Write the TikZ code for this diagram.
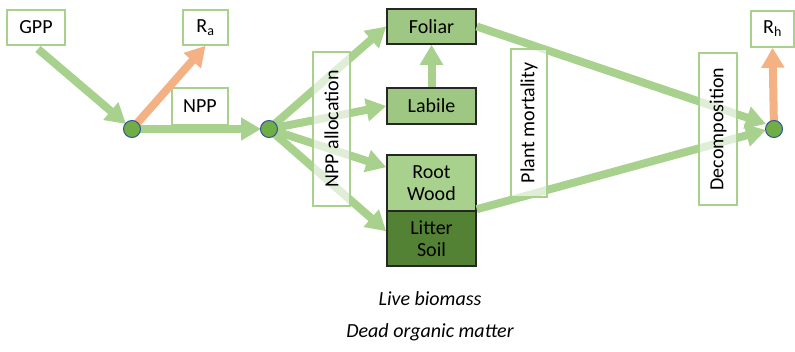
\documentclass[tikz,border=0pt]{standalone}
\usepackage{fontspec}
\setmainfont{Carlito}
\usetikzlibrary{arrows.meta}
\definecolor{arrgreen}{HTML}{A9D18E}
\definecolor{arrorange}{HTML}{F4B183}
\definecolor{livegreen}{HTML}{9DC782}
\definecolor{rootgreen}{HTML}{A9D18E}
\definecolor{deadgreen}{HTML}{548235}
\definecolor{dotgreen}{HTML}{70AD47}
\definecolor{dotblue}{HTML}{2F5597}
\begin{document}
\begin{tikzpicture}[x=1bp,y=-1bp,
  every node/.style={font=\fontsize{20bp}{24bp}\selectfont, inner sep=0pt},
  lbox/.style={draw=arrgreen, line width=1.5bp, fill=white, fill opacity=0.65, text opacity=1},
  pool/.style={draw=black!85, line width=1.5bp, minimum width=89bp},
  dot/.style={circle, draw=dotblue, line width=1bp, fill=dotgreen, minimum size=17bp},
  flow/.style={draw=arrgreen, line width=8bp, -{Triangle[length=20bp,width=22bp]}},
  resp/.style={draw=arrorange, line width=8bp, -{Triangle[length=20bp,width=22bp]}}
]
\useasboundingbox (0,0) rectangle (795,351);

% nodes (boxes without overlap first)
\node[lbox, minimum width=58bp, minimum height=35bp] (gpp) at (36,27.5) {GPP};
\node[lbox, minimum width=45bp, minimum height=35bp] (ra) at (205.5,27.5) {R\textsubscript{a}};
\node[lbox, minimum width=56bp, minimum height=37bp] (npp) at (200,106.5) {NPP};
\node[lbox, minimum width=43bp, minimum height=36bp] (rh) at (772.5,29) {R\textsubscript{h}};

\node[pool, fill=livegreen, minimum height=35bp] (foliar) at (431.5,26.5) {Foliar};
\node[pool, fill=livegreen, minimum height=36bp] (labile) at (431.5,106) {Labile};
\node[pool, fill=rootgreen, minimum height=56bp, align=center] (rootwood) at (431.5,183) {Root\\[-2bp]Wood};
\node[pool, fill=deadgreen, minimum height=55bp, align=center] (littersoil) at (431.5,238.5) {Litter\\[-2bp]Soil};

\coordinate (n1) at (132,129);
\coordinate (n2) at (269,129);
\coordinate (n3) at (774,129);
\coordinate (gppout) at (38,49);

% arrows
\draw[flow] (gppout) -- ([shift={(-6bp,5bp)}]n1);
\draw[resp] (n1) -- (ra.south);
\draw[flow] (n1) -- ([xshift=-8bp]n2);
\draw[flow] (n2) -- (foliar.west);
\draw[flow] (n2) -- (labile.west);
\draw[flow] (n2) -- ([yshift=-13bp]rootwood.north west);
\draw[flow] (n2) -- ([yshift=-21bp]littersoil.north west);
\draw[flow] (labile.north) -- (foliar.south);
\draw[flow] (foliar.east) -- ([shift={(-8bp,5bp)}]n3);
\draw[flow] ([yshift=1bp]littersoil.north east) -- ([shift={(-8bp,-1bp)}]n3);
\draw[resp] (n3) -- (rh.south);

% process labels over arrows
\node[lbox, rotate=90, minimum width=154bp, minimum height=37bp] (alloc) at (331.5,129) {NPP allocation};
\node[lbox, rotate=90, minimum width=148bp, minimum height=36bp] (mort) at (529,123) {Plant mortality};
\node[lbox, rotate=90, minimum width=152bp, minimum height=38bp] (decomp) at (718,129) {Decomposition};

% junction dots
\node[dot] (d1) at (n1) {};
\node[dot] (d2) at (n2) {};
\node[dot] (d3) at (n3) {};

% legend text
\node (live) at (430,299) {\itshape Live biomass};
\node (dead) at (430,332) {\itshape Dead organic matter};
\end{tikzpicture}
\end{document}
